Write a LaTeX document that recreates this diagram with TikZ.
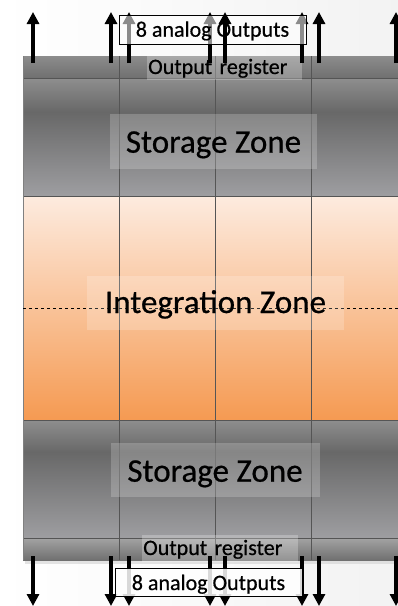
\documentclass[tikz,border=0pt]{standalone}
\usepackage{fontspec}
\setmainfont{Carlito}[FakeBold=0.6]
\usetikzlibrary{arrows.meta,positioning}

\definecolor{regtop}{HTML}{8C8C8C}
\definecolor{regbot}{HTML}{707070}
\definecolor{storelight}{HTML}{8E8E8E}
\definecolor{storedark}{HTML}{686868}
\definecolor{storelow}{HTML}{9E9EA1}
\definecolor{peach}{HTML}{FDEBDF}
\definecolor{orangedeep}{HTML}{F59A52}
\definecolor{gridline}{HTML}{555555}

\tikzstyle{outarrow}=[-{Triangle[width=12pt,length=12pt]},line width=3.1pt,black]
\tikzstyle{zonelabel}=[fill=white,fill opacity=0.2,text opacity=1,inner sep=0pt,
  anchor=base,font=\fontsize{33}{36}\selectfont]
\tikzstyle{reglabel}=[fill=white,fill opacity=0.25,text opacity=1,inner ysep=0pt,
  inner xsep=1pt,anchor=base west,align=left,font=\fontsize{22}{24}\selectfont]
\tikzstyle{outbox}=[draw=black,line width=0.9pt,fill=white,inner sep=0pt,
  anchor=base,font=\fontsize{22}{24}\selectfont]
\tikzstyle{divider}=[draw=gridline,line width=0.9pt]

\begin{document}
\begin{tikzpicture}[x=1pt,y=1pt]
  \useasboundingbox (0,0) rectangle (398,-606);
  \shade[left color=white,right color=gray!10] (0,0) rectangle (398,-606);

  % shadow under the chip
  \fill[gray!35,opacity=0.6] (25,-540) rectangle (398,-564);

  % chip bands, top to bottom
  \shade[top color=regtop,bottom color=regbot] (23,-56) rectangle (398,-78);
  \shade[top color=storelight,bottom color=storedark] (23,-78) rectangle (398,-112);
  \shade[top color=storedark,bottom color=storelow] (23,-112) rectangle (398,-196);
  \shade[top color=peach,bottom color=orangedeep] (23,-196) rectangle (398,-420);
  \shade[top color=storelight,bottom color=storedark] (23,-420) rectangle (398,-452);
  \shade[top color=storedark,bottom color=storelow] (23,-452) rectangle (398,-538);
  \shade[top color=regtop!80!white,bottom color=regbot] (23,-538) rectangle (398,-560);

  % grid of the chip
  \foreach \y in {78,196,420,538}
    \draw[divider] (23,-\y) -- (398,-\y);
  \foreach \x in {119,215,311}
    \draw[divider] (\x,-56) -- (\x,-560);
  \draw[gray,line width=0.8pt] (23,-56) -- (23,-560);
  \draw[dashed,line width=0.6pt] (23,-308) -- (398,-308);

  % zone labels
  \node (STtop) [zonelabel,minimum width=207pt,text height=38.7pt,text depth=16.3pt]
    at (213.5,-152.7) {Storage Zone};
  \node (INT) [zonelabel,minimum width=257pt,text height=37pt,text depth=17pt]
    at (215.5,-313) {Integration Zone};
  \node (STbot) [zonelabel,minimum width=209pt,text height=38.7pt,text depth=15.3pt]
    at (215,-481.7) {Storage Zone};
  \node (REGtop) [reglabel,text width=153pt,text height=18pt,text depth=6pt]
    at (147,-74) {Output register};
  \node (REGbot) [reglabel,text width=154pt,text height=20pt,text depth=7pt]
    at (142,-555) {Output register};

  % arrow ends, two per column
  \foreach \x [count=\i] in {33,111,129,210,225,302,319,396} {
    \coordinate (up\i) at (\x,-63);
    \coordinate (upend\i) at (\x,-12);
    \coordinate (dn\i) at (\x,-556);
    \coordinate (dnend\i) at (\x,-606);
  }

  % outputs on top
  \foreach \i in {3,4,6}
    \draw[outarrow] (up\i) -- (upend\i);
  \node (OUTtop) [outbox,fill opacity=0.55,text opacity=1,minimum width=187pt,
    text height=21.7pt,text depth=7.3pt] at (212.5,-36.7) {8 analog Outputs};
  \foreach \i in {1,2,5,7,8}
    \draw[outarrow] (up\i) -- (upend\i);

  % outputs at the bottom
  \foreach \i in {1,...,8}
    \draw[outarrow] (dn\i) -- (dnend\i);
  \node (OUTbot) [outbox,fill opacity=0.85,text opacity=1,minimum width=187pt,
    text height=22pt,text depth=6pt] at (208.5,-590) {8 analog Outputs};
\end{tikzpicture}
\end{document}
